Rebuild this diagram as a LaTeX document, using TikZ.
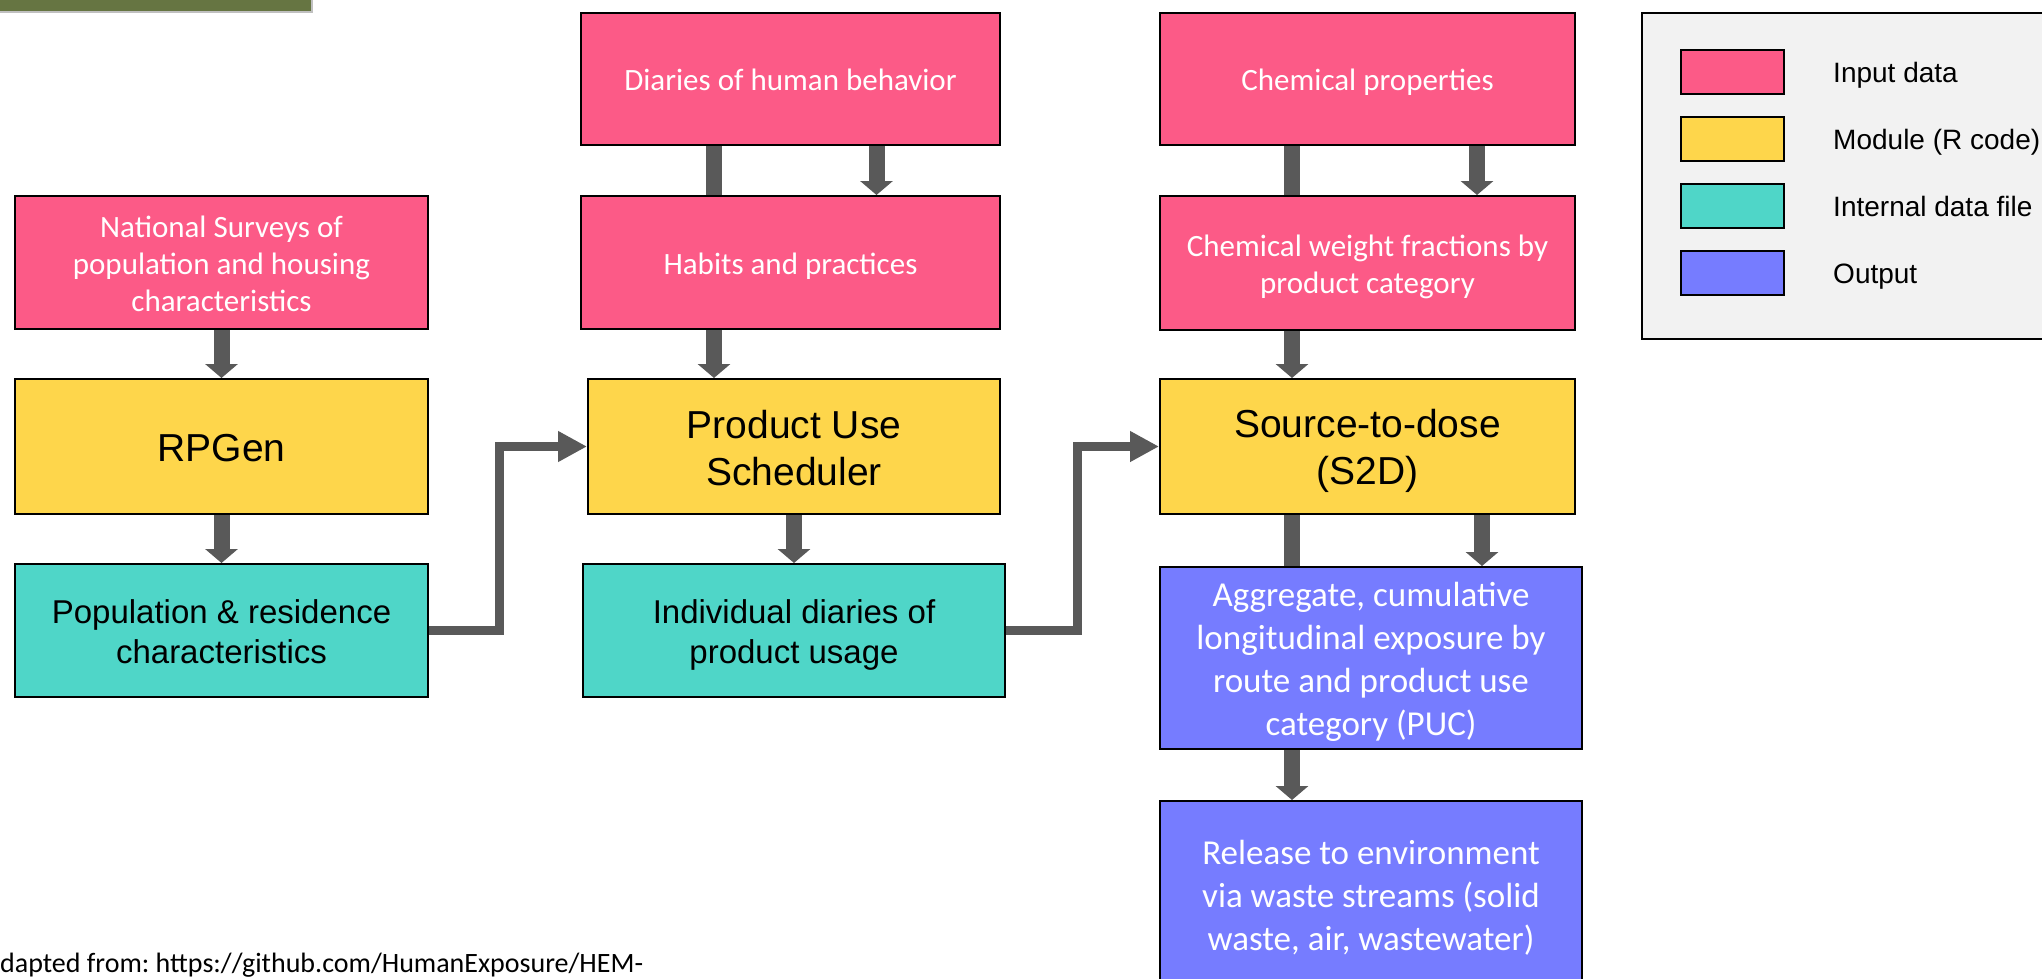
\documentclass[tikz,border=0pt]{standalone}
\usepackage{fontspec}
\setmainfont{Carlito}
\newfontfamily\arialf{Liberation Sans}
\usetikzlibrary{arrows.meta}
\definecolor{pinkc}{RGB}{252,90,135}
\definecolor{yelc}{RGB}{254,214,75}
\definecolor{tealc}{RGB}{79,214,200}
\definecolor{bluec}{RGB}{118,124,255}
\definecolor{arrowc}{RGB}{89,89,89}
\definecolor{legbg}{RGB}{242,242,242}
\definecolor{greenc}{RGB}{102,117,66}
\definecolor{greenbd}{RGB}{192,192,192}
\newcommand\tstrut{\rule[-0.2em]{0pt}{1.17em}}
\frenchspacing
\begin{document}
\begin{tikzpicture}[x=1pt,y=-1pt,
  box/.style={draw=black,line width=2pt,inner sep=0pt,align=center},
  inbox/.style={box,fill=pinkc,text=white,font=\fontsize{31}{37}\selectfont},
  modbox/.style={box,fill=yelc,text=black,font=\arialf\fontsize{39}{47}\selectfont},
  filebox/.style={box,fill=tealc,text=black,font=\arialf\fontsize{33}{40}\selectfont},
  outbox/.style={box,fill=bluec,text=white,font=\fontsize{35}{43}\selectfont},
  barrow/.style={draw=arrowc,line width=16pt,-{Triangle[length=14pt,width=32pt]}},
  bbar/.style={draw=arrowc,line width=16pt},
  conn/.style={draw=arrowc,line width=9pt,line join=miter,-{Triangle[length=29pt,width=29pt]}},
  swatch/.style={draw=black,line width=2pt,inner sep=0pt,minimum width=103pt,minimum height=44pt},
  leglabel/.style={anchor=west,inner sep=0pt,font=\arialf\fontsize{28}{34}\selectfont},
]
\useasboundingbox (0,0) rectangle (2042,978);
\clip (0,0) rectangle (2042,978);
\fill[white] (0,0) rectangle (2042,978);

% top-left green bar
\fill[greenbd] (-5,-5) rectangle (313,13);
\fill[greenc] (-5,-5) rectangle (311,11);

% left column
\node[inbox,minimum width=413pt,minimum height=133pt] (nat) at (221.5,262.5)
  {\tstrut National Surveys of\\population and housing\\characteristics\tstrut};
\node[modbox,minimum width=413pt,minimum height=135pt] (rpg) at (221.5,446.5) {\tstrut RPGen};
\node[filebox,minimum width=413pt,minimum height=133pt] (pop) at (221.5,630.5)
  {\tstrut Population \& residence\\characteristics\tstrut};

% middle column
\node[inbox,minimum width=419pt,minimum height=132pt] (dia) at (790.5,79) {\tstrut Diaries of human behavior};
\node[inbox,minimum width=419pt,minimum height=133pt] (hab) at (790.5,262.5) {\tstrut Habits and practices};
\node[modbox,minimum width=412pt,minimum height=135pt] (pus) at (794,446.5) {\tstrut Product Use\\Scheduler\tstrut};
\node[filebox,minimum width=422pt,minimum height=133pt] (ind) at (794,630.5)
  {\tstrut Individual diaries of\\product usage\tstrut};

% right column
\node[inbox,minimum width=415pt,minimum height=132pt] (chp) at (1367.5,79) {\tstrut Chemical properties};
\node[inbox,minimum width=415pt,minimum height=134pt] (chw) at (1367.5,263)
  {\tstrut Chemical weight fractions by\\product category\tstrut};
\node[modbox,minimum width=415pt,minimum height=135pt] (s2d) at (1367.5,446.5) {\tstrut Source-to-dose\\(S2D)\tstrut};
\node[outbox,minimum width=422pt,minimum height=182pt] (agg) at (1371,658)
  {\tstrut Aggregate, cumulative\\longitudinal exposure by\\route and product use\\category (PUC)\tstrut};
\node[outbox,minimum width=422pt,minimum height=187pt] (rel) at (1371,894.5)
  {\tstrut Release to environment\\via waste streams (solid\\waste, air, wastewater)\tstrut};

% vertical arrows, left column
\draw[barrow] (nat.south) -- (rpg.north);
\draw[barrow] (rpg.south) -- (pop.north);

% middle column
\draw[bbar] ([xshift=-76.5pt]dia.south) -- ([xshift=-76.5pt]hab.north);
\draw[barrow] ([xshift=86pt]dia.south) -- ([xshift=86pt]hab.north);
\draw[barrow] ([xshift=-76.5pt]hab.south) -- ([xshift=-76.5pt]hab.south |- pus.north);
\draw[barrow] (pus.south) -- (ind.north);

% right column
\draw[bbar] ([xshift=-75.5pt]chp.south) -- ([xshift=-75.5pt]chw.north);
\draw[barrow] ([xshift=109.5pt]chp.south) -- ([xshift=109.5pt]chw.north);
\draw[barrow] ([xshift=-75.5pt]chw.south) -- ([xshift=-75.5pt]s2d.north);
\draw[bbar] ([xshift=-75.5pt]s2d.south) -- ([xshift=-75.5pt]s2d.south |- agg.north);
\draw[barrow] ([xshift=114.5pt]s2d.south) -- ([xshift=114.5pt]s2d.south |- agg.north);
\draw[barrow] ([xshift=-79pt]agg.south) -- ([xshift=-79pt]rel.north);

% elbow connectors
\draw[conn] (pop.east) -- ++(70,0) |- (pus.west);
\draw[conn] (ind.east) -- ++(71,0) |- (s2d.west);

% legend
\node[draw=black,line width=2pt,fill=legbg,minimum width=428pt,minimum height=326pt,inner sep=0pt] (leg) at (1856,176) {};
\node[swatch,fill=pinkc] (sw1) at (1732.5,72) {};
\node[swatch,fill=yelc] (sw2) at (1732.5,139) {};
\node[swatch,fill=tealc] (sw3) at (1732.5,206) {};
\node[swatch,fill=bluec] (sw4) at (1732.5,273) {};
\node[leglabel] (l1) at (1833,72) {\tstrut Input data};
\node[leglabel] (l2) at (1833,139) {\tstrut Module (R code)};
\node[leglabel] (l3) at (1833,206) {\tstrut Internal data file};
\node[leglabel] (l4) at (1833,273) {\tstrut Output};

% source note
\node[anchor=base west,inner sep=0pt,font=\fontsize{28}{33}\selectfont] (src) at (0,972)
  {dapted from: https://github.com/HumanExposure/HEM-};
\end{tikzpicture}
\end{document}
